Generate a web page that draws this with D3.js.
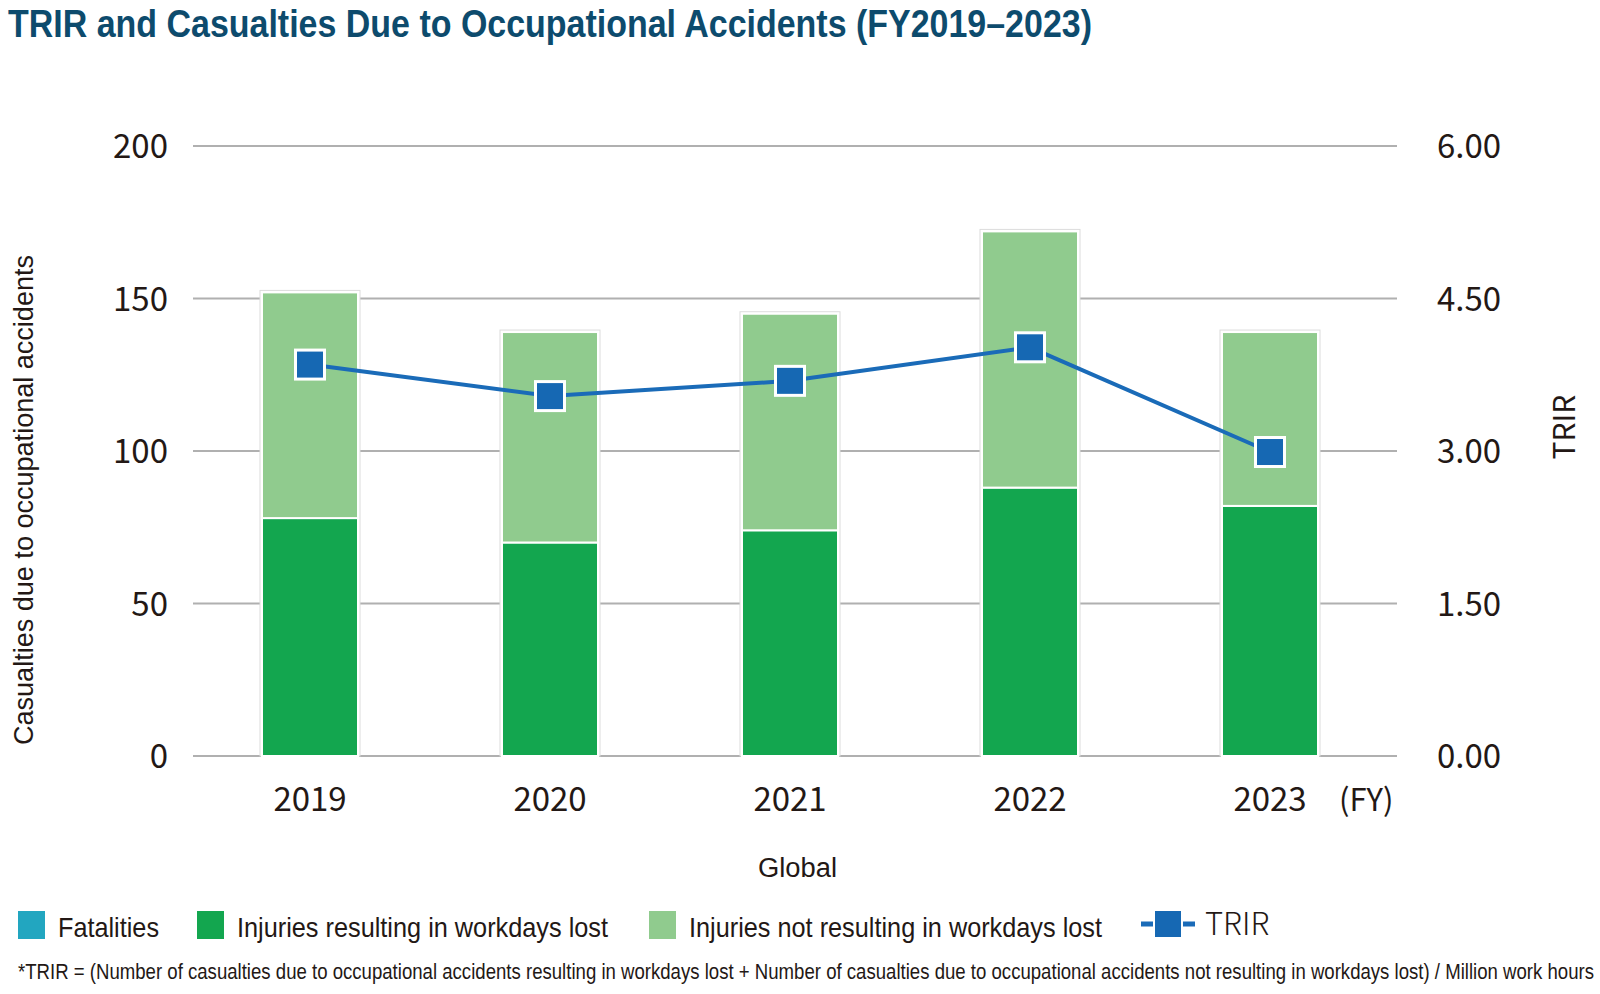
<!DOCTYPE html>
<html>
<head>
<meta charset="utf-8">
<title>TRIR and Casualties Due to Occupational Accidents</title>
<script src="https://cdn.jsdelivr.net/npm/d3@7"></script>
<style>
    body { margin: 0; background: #fff; }
    svg { display: block; }
    .cond { font-family: "Liberation Sans", Arial, sans-serif; fill: #231815; }
    .jp { font-family: "Noto Sans CJK JP", "Noto Sans", sans-serif; fill: #231815; }
</style>
</head>
<body>
<div class="container"></div>
<script>
/**
 * TRIR / casualties chart
 */

// data
var years = ["2019", "2020", "2021", "2022", "2023"];
var fatalities = [0, 0, 0, 0, 0];
var injuriesLost = [78, 70, 74, 88, 82];
var injuriesNotLost = [74, 69, 71, 84, 57];
var trir = [3.85, 3.54, 3.69, 4.02, 2.99];
var leftTicks = [0, 50, 100, 150, 200];
var rightTicks = [0, 1.5, 3, 4.5, 6];

var WIDTH = 1600;
var HEIGHT = 994;

var COLOR_FATAL = "#22a6c0";
var COLOR_LOST = "#13a64f";
var COLOR_NOT_LOST = "#90cb8e";
var COLOR_TRIR = "#1668b3";
var COLOR_GRID = "#b0b0b0";
var COLOR_TITLE = "#0d4b6d";

var svg = d3.select(".container").append("svg")
    .attr("width", WIDTH)
    .attr("height", HEIGHT);

var x = d3.scaleBand()
    .domain(years)
    .range([190, 1390])
    .paddingInner(0.6)
    .paddingOuter(0.3);

var yLeft = d3.scaleLinear().domain([0, 200]).range([756, 146]);
var yRight = d3.scaleLinear().domain([0, 6]).range([756, 146]);

// condensed text: squeeze regular glyphs into the measured width
function condText(sel, str, px, length) {
    return sel.append("text")
        .classed("cond", true)
        .attr("font-size", px)
        .attr("textLength", length)
        .attr("lengthAdjust", "spacingAndGlyphs")
        .text(str);
}

// title
condText(svg, "TRIR and Casualties Due to Occupational Accidents (FY2019\u20132023)", 38, 1084)
    .attr("x", 8)
    .attr("y", 37)
    .attr("font-weight", "bold")
    .style("fill", COLOR_TITLE);

// gridlines
svg.append("g")
    .selectAll("line")
    .data(leftTicks)
    .enter()
    .append("line")
    .attr("x1", 193)
    .attr("x2", 1397)
    .attr("y1", function(d) {return yLeft(d);})
    .attr("y2", function(d) {return yLeft(d);})
    .attr("stroke", COLOR_GRID)
    .attr("stroke-width", 2);

// left axis
var leftAxis = svg.append("g")
    .attr("transform", "translate(168,0)")
    .call(d3.axisLeft(yLeft).tickValues(leftTicks).tickSize(0).tickPadding(0));
leftAxis.select(".domain").remove();
leftAxis.selectAll("text")
    .attr("class", "jp")
    .attr("font-size", 33)
    .attr("dy", "0.36em");

// right axis
var rightAxis = svg.append("g")
    .attr("transform", "translate(1437,0)")
    .call(d3.axisRight(yRight).tickValues(rightTicks).tickSize(0).tickPadding(0).tickFormat(d3.format(".2f")));
rightAxis.select(".domain").remove();
rightAxis.selectAll("text")
    .attr("class", "jp")
    .attr("font-size", 33)
    .attr("dy", "0.36em");

// bottom axis
var bottomAxis = svg.append("g")
    .attr("transform", "translate(0,785)")
    .call(d3.axisBottom(x).tickSize(0).tickPadding(0));
bottomAxis.select(".domain").remove();
bottomAxis.selectAll("text")
    .attr("class", "jp")
    .attr("font-size", 33)
    .attr("dy", "0.78em");

svg.append("text")
    .classed("jp", true)
    .attr("x", 1339)
    .attr("y", 811)
    .attr("font-size", 31)
    .text("(FY)");

// axis titles
condText(svg, "Casualties due to occupational accidents", 27, 490)
    .attr("transform", "translate(33,745) rotate(-90)");

svg.append("text")
    .classed("jp", true)
    .attr("font-size", 30)
    .attr("text-anchor", "middle")
    .attr("transform", "translate(1575,427) rotate(-90)")
    .text("TRIR");

condText(svg, "Global", 27, 79)
    .attr("x", 758)
    .attr("y", 877);

// stacked bars
var stackData = years.map(function(year, i) {
    return {year: year, fatal: fatalities[i], lost: injuriesLost[i], notLost: injuriesNotLost[i]};
});
var keys = ["fatal", "lost", "notLost"];
var colors = {fatal: COLOR_FATAL, lost: COLOR_LOST, notLost: COLOR_NOT_LOST};
var series = d3.stack().keys(keys)(stackData);

// faint outline behind each bar
svg.append("g")
    .selectAll("rect")
    .data(stackData)
    .enter()
    .append("rect")
    .attr("x", function(d) {return x(d.year) - 2;})
    .attr("width", x.bandwidth() + 4)
    .attr("y", function(d) {return yLeft(d.fatal + d.lost + d.notLost) - 2;})
    .attr("height", function(d) {return yLeft(0) - yLeft(d.fatal + d.lost + d.notLost) + 2;})
    .attr("fill", "#fff")
    .attr("stroke", "#dcdcdc")
    .attr("stroke-width", 1);

svg.append("g")
    .selectAll("g")
    .data(series)
    .enter()
    .append("g")
    .attr("fill", function(d) {return colors[d.key];})
    .selectAll("rect")
    .data(function(d) {return d.filter(function(p) {return p[1] > p[0];});})
    .enter()
    .append("rect")
    .attr("x", function(d) {return x(d.data.year);})
    .attr("width", x.bandwidth())
    .attr("y", function(d) {return yLeft(d[1]);})
    .attr("height", function(d) {return yLeft(d[0]) - yLeft(d[1]);})
    .attr("stroke", "#fff")
    .attr("stroke-width", 2);

// TRIR line
var centre = function(year) {return x(year) + x.bandwidth() / 2;};

svg.append("path")
    .datum(trir)
    .attr("fill", "none")
    .attr("stroke", "#1a6bb8")
    .attr("stroke-width", 4)
    .attr("d", d3.line()
        .x(function(d, i) {return centre(years[i]);})
        .y(function(d) {return yRight(d);}));

var MARK = 29;
svg.append("g")
    .selectAll("rect")
    .data(trir)
    .enter()
    .append("rect")
    .attr("x", function(d, i) {return centre(years[i]) - MARK / 2;})
    .attr("y", function(d) {return yRight(d) - MARK / 2;})
    .attr("width", MARK)
    .attr("height", MARK)
    .attr("fill", COLOR_TRIR)
    .attr("stroke", "#fff")
    .attr("stroke-width", 3);

// legend
var legend = svg.append("g");
var legendItems = [
    {label: "Fatalities", color: COLOR_FATAL, x: 18, length: 101},
    {label: "Injuries resulting in workdays lost", color: COLOR_LOST, x: 197, length: 371},
    {label: "Injuries not resulting in workdays lost", color: COLOR_NOT_LOST, x: 649, length: 413}
];

legendItems.forEach(function(item) {
    legend.append("rect")
        .attr("x", item.x)
        .attr("y", 911)
        .attr("width", 27)
        .attr("height", 28)
        .attr("fill", item.color);
    condText(legend, item.label, 28, item.length)
        .attr("x", item.x + 40)
        .attr("y", 937);
});

legend.append("line")
    .attr("x1", 1141)
    .attr("x2", 1195)
    .attr("y1", 924)
    .attr("y2", 924)
    .attr("stroke", "#1a6bb8")
    .attr("stroke-width", 5);
legend.append("rect")
    .attr("x", 1154)
    .attr("y", 910)
    .attr("width", 28)
    .attr("height", 28)
    .attr("fill", COLOR_TRIR)
    .attr("stroke", "#fff")
    .attr("stroke-width", 2);
legend.append("text")
    .classed("jp", true)
    .attr("x", 1205)
    .attr("y", 935)
    .attr("font-size", 31)
    .attr("font-weight", 300)
    .text("TRIR");

// footnote: smaller font stretched upward, so its natural width already fits the page
condText(svg, "*TRIR = (Number of casualties due to occupational accidents resulting in workdays lost + Number of casualties due to occupational accidents not resulting in workdays lost) / Million work hours", 18.4, 1576)
    .attr("transform", "translate(18,979) scale(1,1.2)");
</script>
</body>
</html>
